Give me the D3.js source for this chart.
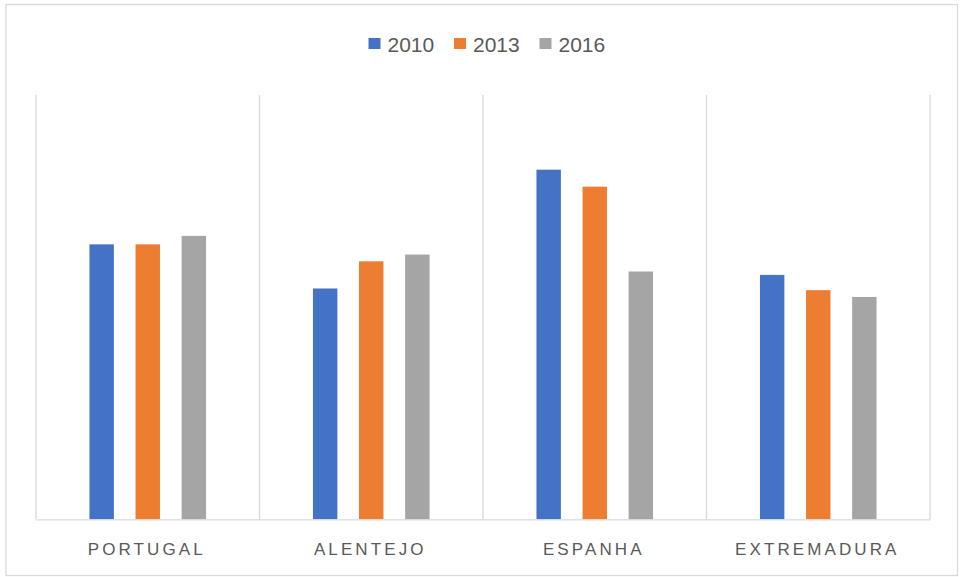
<!DOCTYPE html>
<html>
<head>
<meta charset="utf-8">
<script src="https://cdn.jsdelivr.net/npm/d3@7"></script>
<style>
  body { margin: 0; background: #fff; }
  svg { display: block; }
</style>
</head>
<body>
<div id="chart"></div>
<script>
const regions = ["PORTUGAL", "ALENTEJO", "ESPANHA", "EXTREMADURA"]
const years = ["2010", "2013", "2016"]
const values2010 = [16.2, 13.6, 20.6, 14.4]
const values2013 = [16.2, 15.2, 19.6, 13.5]
const values2016 = [16.7, 15.6, 14.6, 13.1]
const colors = ["#4472c4", "#ed7d31", "#a5a5a5"]

const seriesValues = [values2010, values2013, values2016]
const rows = regions.map((r, i) => ({
  region: r,
  values: years.map((y, j) => ({ year: y, value: seriesValues[j][i] }))
}))

const width = 960
const height = 577
const plot = { left: 36, right: 930, top: 95, bottom: 519.3 }

const svg = d3.select("#chart")
  .append("svg")
  .attr("width", width)
  .attr("height", height)

// chart frame
svg.append("rect")
  .attr("x", 6)
  .attr("y", 4.5)
  .attr("width", 951.5)
  .attr("height", 571)
  .attr("fill", "#fff")
  .attr("stroke", "#d9d9d9")
  .attr("stroke-width", 1.3)

const x = d3.scaleBand()
  .domain(regions)
  .range([plot.left, plot.right])
  .padding(0)

const xInner = d3.scaleBand()
  .domain(years)
  .range([0, x.bandwidth()])
  .paddingInner(0.47)
  .paddingOuter(1.16)

const y = d3.scaleLinear()
  .domain([0, 25])
  .range([plot.bottom, plot.top])

// vertical separators between categories
const sepPositions = regions.map(r => x(r)).concat([plot.right])
svg.append("g")
  .selectAll("line")
  .data(sepPositions)
  .enter()
  .append("line")
  .attr("x1", d => d)
  .attr("x2", d => d)
  .attr("y1", plot.top)
  .attr("y2", plot.bottom)
  .attr("stroke", "#d9d9d9")
  .attr("stroke-width", 1.3)

// bars
const groups = svg.append("g")
  .selectAll("g")
  .data(rows)
  .enter()
  .append("g")
  .attr("transform", d => `translate(${x(d.region)},0)`)

groups.selectAll("rect")
  .data(d => d.values)
  .enter()
  .append("rect")
  .attr("x", d => xInner(d.year))
  .attr("y", d => y(d.value))
  .attr("width", xInner.bandwidth())
  .attr("height", d => y(0) - y(d.value))
  .attr("fill", (d, i) => colors[i])

// baseline
const xAxis = svg.append("g")
  .attr("transform", `translate(0,${plot.bottom})`)
  .call(d3.axisBottom(x).tickSize(0).tickPadding(0))

xAxis.select(".domain")
  .attr("stroke", "#d9d9d9")
  .attr("stroke-width", 1.3)

xAxis.selectAll("text")
  .attr("y", 36)
  .attr("dy", 0)
  .attr("dx", -1)
  .style("font-family", "'Liberation Sans', Arial, sans-serif")
  .style("font-size", "17px")
  .style("letter-spacing", "3.1px")
  .style("fill", "#595959")

// legend
const legend = svg.append("g")
  .selectAll("g")
  .data(years)
  .enter()
  .append("g")
  .attr("transform", (d, i) => `translate(${368.5 + i * 85.5},38)`)

legend.append("rect")
  .attr("width", 12)
  .attr("height", 11)
  .attr("fill", (d, i) => colors[i])

legend.append("text")
  .attr("x", 19)
  .attr("y", 14)
  .style("font-family", "'Liberation Sans', Arial, sans-serif")
  .style("font-size", "21px")
  .style("fill", "#595959")
  .text(d => d)
</script>
</body>
</html>
